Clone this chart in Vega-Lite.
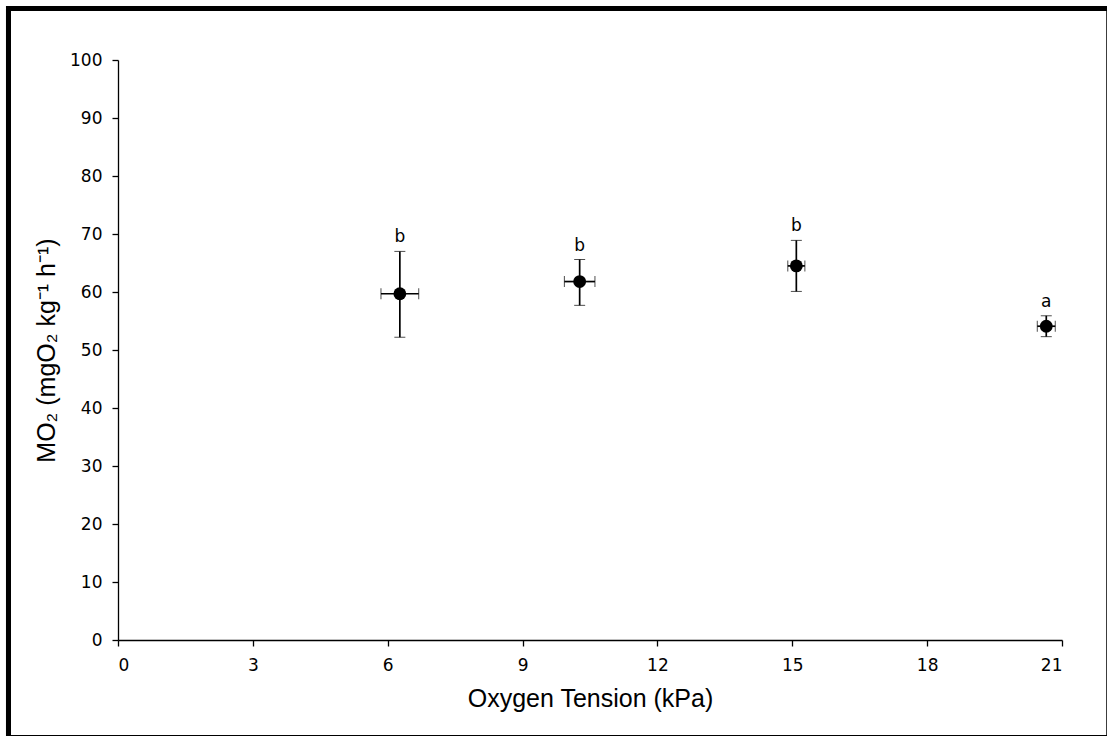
{
  "$schema": "https://vega.github.io/schema/vega-lite/v6.json",
  "width": 944,
  "height": 580,
  "autosize": {"type": "none"},
  "padding": {"left": 118, "top": 60, "right": 45, "bottom": 96},
  "background": "white",
  "config": {
    "view": {"stroke": null},
    "axis": {
      "grid": false,
      "domainColor": "black",
      "domainWidth": 1.3,
      "tickColor": "black",
      "tickWidth": 1.3,
      "tickSize": 6,
      "labelFont": "DejaVu Sans",
      "labelFontSize": 17,
      "labelColor": "black",
      "titleFont": "Liberation Sans",
      "titleFontWeight": "normal",
      "titleColor": "black"
    }
  },
  "data": {
    "values": [
      {"kPa": 6.27, "kPa_low": 5.85, "kPa_high": 6.69, "MO2": 59.7, "MO2_low": 52.2, "MO2_high": 67.0, "label": "b"},
      {"kPa": 10.27, "kPa_low": 9.93, "kPa_high": 10.61, "MO2": 61.8, "MO2_low": 57.7, "MO2_high": 65.6, "label": "b"},
      {"kPa": 15.09, "kPa_low": 14.9, "kPa_high": 15.28, "MO2": 64.5, "MO2_low": 60.1, "MO2_high": 68.9, "label": "b"},
      {"kPa": 20.65, "kPa_low": 20.45, "kPa_high": 20.85, "MO2": 54.1, "MO2_low": 52.3, "MO2_high": 55.9, "label": "a"}
    ]
  },
  "layer": [
    {
      "mark": {"type": "rect", "fill": null, "stroke": "black", "strokeWidth": 5, "clip": false},
      "encoding": {
        "x": {"datum": -2.436, "type": "quantitative", "title": "Oxygen Tension (kPa)"},
        "x2": {"datum": 22.05},
        "y": {"datum": 108.9, "type": "quantitative", "title": "MO₂ (mgO₂ kg⁻¹ h⁻¹)"},
        "y2": {"datum": -16.8}
      }
    },
    {
      "mark": {"type": "errorbar", "ticks": {"size": 11, "color": "black", "strokeWidth": 1.7}, "rule": {"color": "black", "strokeWidth": 1.7}},
      "encoding": {
        "x": {"field": "kPa", "type": "quantitative", "title": "Oxygen Tension (kPa)",
          "scale": {"domain": [0, 21], "nice": false, "zero": false},
          "axis": {"values": [0, 3, 6, 9, 12, 15, 18, 21], "titleFontSize": 25, "titlePadding": 13, "labelPadding": 11}},
        "y": {"field": "MO2_low", "type": "quantitative", "title": "MO₂ (mgO₂ kg⁻¹ h⁻¹)",
          "scale": {"domain": [0, 100], "nice": false},
          "axis": {"values": [0, 10, 20, 30, 40, 50, 60, 70, 80, 90, 100], "titleFontSize": 25, "titlePadding": 10, "labelPadding": 10}},
        "y2": {"field": "MO2_high"}
      }
    },
    {
      "mark": {"type": "errorbar", "ticks": {"size": 11, "color": "black", "strokeWidth": 1.7}, "rule": {"color": "black", "strokeWidth": 1.7}},
      "encoding": {
        "y": {"field": "MO2", "type": "quantitative", "title": "MO₂ (mgO₂ kg⁻¹ h⁻¹)"},
        "x": {"field": "kPa_low", "type": "quantitative", "title": "Oxygen Tension (kPa)"},
        "x2": {"field": "kPa_high"}
      }
    },
    {
      "mark": {"type": "point", "shape": "circle", "filled": true, "color": "black", "opacity": 1, "size": 165},
      "encoding": {
        "x": {"field": "kPa", "type": "quantitative", "title": "Oxygen Tension (kPa)"},
        "y": {"field": "MO2", "type": "quantitative", "title": "MO₂ (mgO₂ kg⁻¹ h⁻¹)"}
      }
    },
    {
      "mark": {"type": "text", "font": "DejaVu Sans", "fontSize": 17, "color": "black", "baseline": "alphabetic", "dy": -9},
      "encoding": {
        "x": {"field": "kPa", "type": "quantitative", "title": "Oxygen Tension (kPa)"},
        "y": {"field": "MO2_high", "type": "quantitative", "title": "MO₂ (mgO₂ kg⁻¹ h⁻¹)"},
        "text": {"field": "label"}
      }
    }
  ]
}
